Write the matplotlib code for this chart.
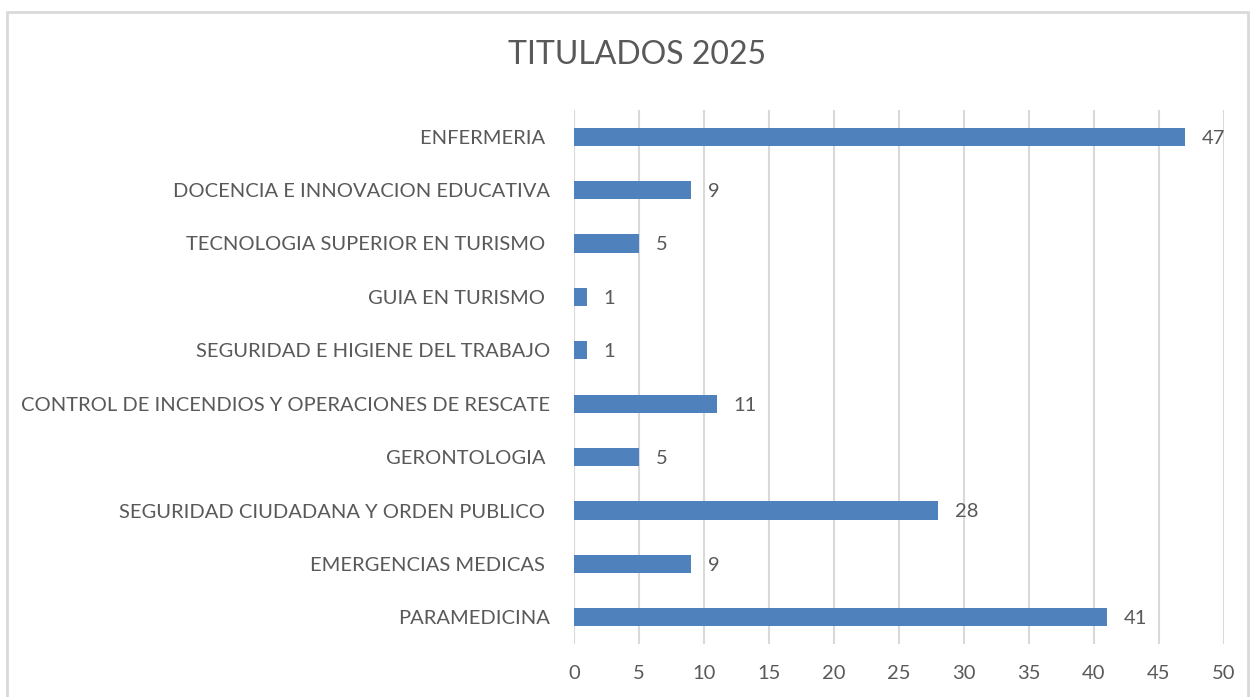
import matplotlib
matplotlib.use("Agg")
import matplotlib.pyplot as plt
from matplotlib.patches import Rectangle

categories = [
    "ENFERMERIA ",
    "DOCENCIA E INNOVACION EDUCATIVA",
    "TECNOLOGIA SUPERIOR EN TURISMO ",
    "GUIA EN TURISMO ",
    "SEGURIDAD E HIGIENE DEL TRABAJO",
    "CONTROL DE INCENDIOS Y OPERACIONES DE RESCATE",
    "GERONTOLOGIA ",
    "SEGURIDAD CIUDADANA Y ORDEN PUBLICO ",
    "EMERGENCIAS MEDICAS ",
    "PARAMEDICINA",
]
values = [47, 9, 5, 1, 1, 11, 5, 28, 9, 41]
xticks = [0, 5, 10, 15, 20, 25, 30, 35, 40, 45, 50]
title = "TITULADOS 2025"

plt.rcParams['font.family'] = ['Lato', 'DejaVu Sans']
text_color = "#595959"
bar_color = "#4F81BD"
grid_color = "#D9D9D9"

fig = plt.figure(figsize=(12.52, 6.97), dpi=100)
ax = fig.add_axes([574/1252, 1-644/697, 650/1252, 534/697])

n = len(categories)
ypos = list(range(n))[::-1]
bars = ax.barh(ypos, values, height=0.34, color=bar_color, zorder=3)
ax.set_ylim(-0.5, n-0.5)
ax.set_xlim(0, 50)
ax.set_xticks(xticks)
ax.set_xticklabels([str(t) for t in xticks])
ax.set_yticks(ypos)
ax.set_yticklabels(categories)
ax.tick_params(axis='both', length=0, labelsize=14.5, colors=text_color)
ax.tick_params(axis='y', pad=17)
ax.tick_params(axis='x', pad=15)
ax.xaxis.grid(True, color=grid_color, linewidth=1.5, zorder=0)
for s in ax.spines.values():
    s.set_visible(False)

for y, v in zip(ypos, values):
    ax.annotate(str(v), (v, y), xytext=(12, -1), textcoords='offset points',
                va='center', ha='left', fontsize=14.5, color=text_color)

fig.text(637/1252, 1-55/697, title, ha='center', va='center', fontsize=23, color=text_color)

border = Rectangle((7/1252, -0.05), (1248-7)/1252, 1-12/697+0.05, transform=fig.transFigure,
                   fill=False, edgecolor=grid_color, linewidth=2)
fig.patches.append(border)

fig.savefig("out.png", dpi=100, facecolor="white")
